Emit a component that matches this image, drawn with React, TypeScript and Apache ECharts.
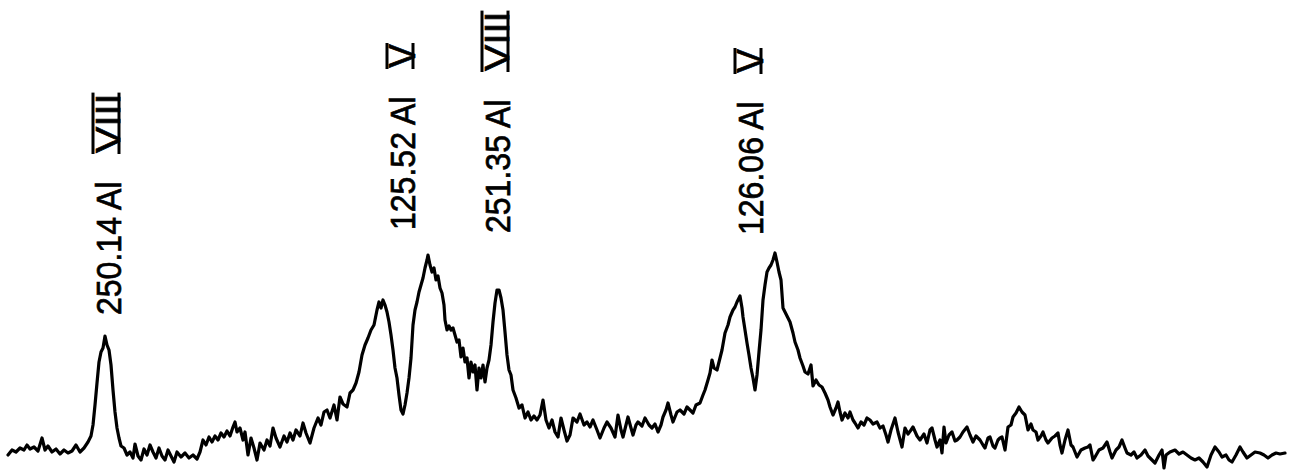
import React, { useEffect, useRef } from 'react';
import * as echarts from 'echarts';

// Spectrum trace: [channel, counts]
const traceLeft: [number, number][] = [
  [8, 17], [12, 22], [16, 20], [20, 24], [24, 22], [27, 27], [30, 23], [34, 25], [38, 21], [42, 34],
  [45, 22], [48, 26], [52, 20], [56, 23], [60, 18], [64, 22], [68, 19], [72, 21], [76, 27], [80, 20],
  [84, 24], [88, 30], [91, 36], [93, 47], [95, 67], [97, 89], [99, 110], [101, 120], [103, 124], [105, 136],
  [107, 127], [109, 122], [111, 107], [113, 82], [115, 60], [117, 44], [119, 34], [121, 26], [124, 24], [127, 17],
  [130, 20], [133, 14], [135, 28], [138, 16], [141, 12], [144, 23], [147, 17], [150, 27], [153, 20], [156, 14],
  [159, 24], [162, 16], [165, 12], [168, 22], [171, 16], [174, 10], [177, 20], [181, 15], [185, 19], [189, 14],
  [193, 17], [197, 13], [200, 20], [203, 32], [206, 27], [209, 35], [212, 30], [215, 36], [218, 32], [221, 39],
  [224, 35], [227, 41], [230, 36], [233, 45], [235, 50], [237, 40], [240, 44], [243, 32], [245, 40], [248, 17],
  [251, 34], [254, 24], [257, 12], [260, 29], [264, 22], [267, 32], [270, 26], [273, 44], [276, 34], [280, 25],
  [284, 36], [287, 30], [290, 39], [293, 32], [296, 42], [300, 36], [303, 49], [306, 39], [310, 29], [314, 44],
  [318, 54], [321, 47], [324, 60], [327, 62], [330, 54], [334, 67], [337, 52], [340, 75], [343, 68], [347, 65],
];

const traceAlV: [number, number][] = [
  [350, 79], [353, 82], [356, 89], [359, 100], [362, 117], [365, 127], [368, 134], [371, 142], [374, 147], [377, 162],
  [379, 170], [381, 164], [383, 172], [385, 167], [387, 160], [389, 150], [391, 137], [393, 122], [395, 104], [397, 94],
  [399, 77], [401, 62], [403, 58], [405, 67], [407, 79], [409, 94], [411, 114], [413, 147], [415, 162], [417, 170],
  [419, 180], [421, 187], [423, 194], [425, 204], [427, 212], [428, 217], [430, 207], [432, 200], [434, 204], [436, 192],
  [438, 196], [440, 184], [442, 179], [444, 167], [445, 152], [447, 142], [449, 146], [451, 142], [453, 144], [455, 137],
  [457, 130], [459, 132], [461, 115], [463, 124], [465, 110], [467, 114], [469, 94], [471, 110], [473, 100], [475, 107],
  [477, 82], [479, 104], [481, 94], [483, 107], [485, 90], [487, 104], [489, 112], [491, 127], [493, 150], [495, 169],
  [497, 182], [499, 182], [501, 174], [503, 162], [505, 140], [507, 117], [509, 102], [511, 97], [513, 82], [516, 74],
  [519, 64], [522, 67], [525, 54], [528, 60], [531, 52], [534, 56], [537, 52], [540, 57], [543, 72], [546, 52],
];

const traceMiddle: [number, number][] = [
  [549, 44], [552, 52], [555, 40], [558, 35], [561, 54], [564, 42], [567, 31], [570, 37], [573, 54], [577, 50],
  [580, 58], [584, 47], [587, 50], [590, 45], [593, 52], [597, 42], [600, 34], [604, 44], [607, 50], [611, 44],
  [615, 35], [618, 57], [621, 42], [623, 35], [626, 47], [628, 55], [631, 44], [633, 37], [636, 47], [638, 50],
  [642, 46], [645, 54], [649, 47], [652, 44], [655, 48], [658, 40], [661, 47], [663, 55], [666, 62], [668, 69],
  [671, 57], [673, 50], [677, 60], [680, 62], [684, 58], [687, 65], [690, 62], [693, 59], [696, 67], [700, 69],
];

const traceAlVB: [number, number][] = [
  [703, 77], [705, 82], [708, 92], [710, 99], [712, 112], [714, 104], [717, 102], [719, 110], [722, 122], [725, 139],
  [728, 147], [730, 155], [733, 162], [735, 165], [737, 170], [739, 174], [740, 176], [742, 164], [743, 155], [745, 142],
  [747, 129], [749, 117], [751, 104], [753, 94], [755, 82], [757, 97], [759, 120], [761, 142], [763, 172], [765, 187],
  [767, 200], [769, 204], [771, 207], [773, 212], [775, 219], [777, 210], [779, 200], [781, 192], [783, 164], [785, 160],
  [788, 154], [790, 150], [793, 139], [795, 130], [798, 122], [800, 114], [803, 106], [805, 100], [808, 98], [811, 107],
  [813, 86], [816, 92], [819, 87], [822, 85], [825, 79], [828, 72], [830, 65], [833, 57], [836, 64], [838, 70],
  [840, 60], [842, 52], [845, 59], [848, 54], [850, 60], [853, 52], [855, 49], [858, 44], [861, 50], [864, 47],
  [867, 54], [870, 52], [873, 48], [877, 50], [880, 44], [883, 46], [886, 37], [888, 30], [891, 42], [895, 54],
  [898, 40], [902, 25], [905, 44], [908, 38], [911, 42], [913, 45], [917, 36], [920, 32], [924, 38], [927, 29],
];

const traceRight: [number, number][] = [
  [930, 42], [932, 44], [935, 32], [937, 25], [940, 32], [942, 19], [944, 45], [946, 29], [949, 37], [952, 40],
  [955, 31], [957, 32], [960, 35], [963, 40], [967, 45], [970, 37], [973, 30], [976, 36], [980, 32], [983, 27],
  [985, 24], [988, 34], [990, 35], [993, 26], [995, 24], [998, 32], [1000, 34], [1002, 35], [1005, 22], [1008, 45],
  [1011, 47], [1013, 55], [1016, 59], [1019, 65], [1022, 60], [1025, 57], [1028, 42], [1031, 48], [1033, 42], [1036, 40],
  [1038, 32], [1041, 36], [1043, 40], [1046, 32], [1048, 29], [1052, 34], [1055, 36], [1058, 39], [1060, 27], [1062, 19],
  [1065, 32], [1068, 42], [1071, 27], [1073, 25], [1077, 15], [1081, 22], [1085, 24], [1088, 25], [1090, 27], [1093, 12],
  [1095, 15], [1099, 22], [1103, 24], [1107, 30], [1110, 20], [1112, 14], [1116, 22], [1119, 25], [1122, 32], [1125, 24],
  [1127, 19], [1131, 17], [1134, 20], [1137, 14], [1141, 17], [1145, 22], [1148, 16], [1152, 12], [1155, 9], [1159, 17],
  [1162, 22], [1164, 4], [1166, 17], [1170, 20], [1175, 22], [1179, 18], [1183, 20], [1187, 17], [1191, 14], [1195, 12],
  [1199, 14], [1203, 10], [1207, 5], [1211, 17], [1215, 25], [1219, 20], [1222, 15], [1226, 17], [1229, 12], [1232, 10],
  [1236, 17], [1240, 25], [1243, 20], [1247, 14], [1251, 17], [1255, 20], [1260, 19], [1264, 17], [1268, 14], [1272, 17],
  [1276, 19], [1280, 18], [1285, 19],
];

// Line identifications
const lineWavelengths = ['250.14', '125.52', '251.35', '126.06'];
const lineElements = ['Al', 'Al', 'Al', 'Al'];
const lineIons = ['VIII', 'V', 'VIII', 'V'];
const labelChannels = [106, 400, 495, 748];
const labelBaseCounts = [157, 242, 239, 237];

const FONT = '"Liberation Sans", Arial, sans-serif';

export default function App() {
  const ref = useRef<HTMLDivElement>(null);

  useEffect(() => {
    if (!ref.current) return;
    const chart = echarts.init(ref.current, null, { renderer: 'svg' });
    const spectrum = [...traceLeft, ...traceAlV, ...traceMiddle, ...traceAlVB, ...traceRight];

    chart.setOption({
      animation: false,
      backgroundColor: '#ffffff',
      grid: { left: 0, right: 0, top: 0, bottom: 0 },
      xAxis: { type: 'value', min: 0, max: 1291, show: false },
      yAxis: { type: 'value', min: 0, max: 472, show: false },
      series: [
        {
          type: 'line',
          data: spectrum,
          showSymbol: false,
          silent: true,
          lineStyle: { color: '#000000', width: 3.2, join: 'round', cap: 'round' },
        },
      ],
    });

    const numeralStart = 162;
    const graphics = lineWavelengths.map((w, i) => {
      const p = chart.convertToPixel({ gridIndex: 0 }, [labelChannels[i], labelBaseCounts[i]]) as number[];
      const ion = lineIons[i];
      const numeralScale = ion === 'V' ? 1.0 : 1.1;
      const numeralWidth = (ion === 'V' ? 24 : 54) * numeralScale;
      return {
        type: 'group',
        x: p[0] + 2,
        y: p[1],
        rotation: Math.PI / 2,
        silent: true,
        children: [
          {
            type: 'text',
            x: 0,
            y: 0,
            scaleX: 0.89,
            style: {
              text: `${w} ${lineElements[i]}`,
              font: `36px ${FONT}`,
              fill: '#000000',
              stroke: '#000000',
              lineWidth: 0.7,
              align: 'left',
              verticalAlign: 'middle',
            },
          },
          {
            type: 'text',
            x: numeralStart,
            y: 0,
            scaleX: numeralScale,
            style: {
              text: ion,
              font: `36px ${FONT}`,
              fill: '#000000',
              stroke: '#000000',
              lineWidth: 0.7,
              align: 'left',
              verticalAlign: 'middle',
            },
          },
          {
            type: 'line',
            shape: { x1: numeralStart - 1, y1: -15, x2: numeralStart + numeralWidth + 1, y2: -15 },
            style: { stroke: '#000000', lineWidth: 3 },
          },
          {
            type: 'line',
            shape: { x1: numeralStart - 1, y1: 11, x2: numeralStart + numeralWidth + 1, y2: 11 },
            style: { stroke: '#000000', lineWidth: 3 },
          },
        ],
      };
    });

    chart.setOption({ graphic: graphics });

    return () => {
      chart.dispose();
    };
  }, []);

  return (
    <div
      ref={ref}
      style={{ position: 'fixed', left: 0, top: 0, width: 1291, height: 472, background: '#ffffff' }}
    />
  );
}
